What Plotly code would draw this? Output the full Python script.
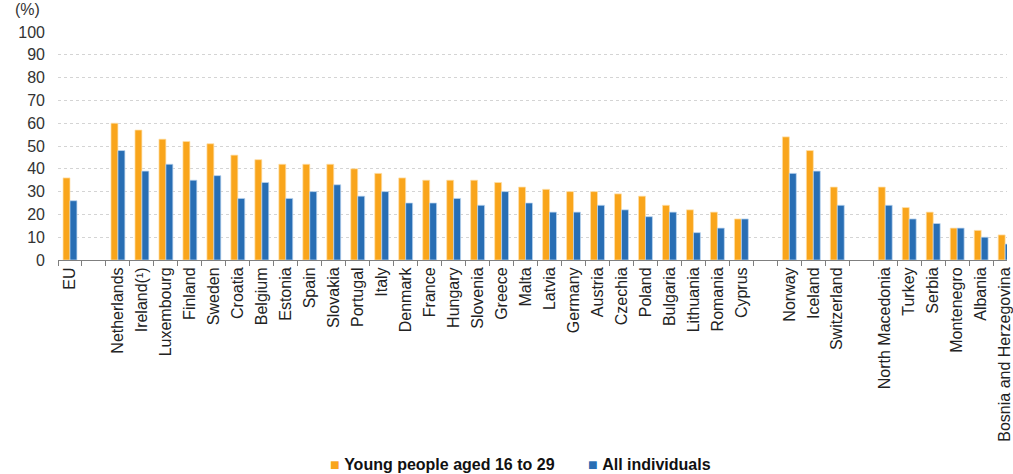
import plotly.graph_objects as go

categories = ["EU", " ", "Netherlands", "Ireland(¹)", "Luxembourg", "Finland", "Sweden",
              "Croatia", "Belgium", "Estonia", "Spain", "Slovakia", "Portugal", "Italy",
              "Denmark", "France", "Hungary", "Slovenia", "Greece", "Malta", "Latvia",
              "Germany", "Austria", "Czechia", "Poland", "Bulgaria", "Lithuania", "Romania",
              "Cyprus", "  ", "Norway", "Iceland", "Switzerland", "   ", "North Macedonia",
              "Turkey", "Serbia", "Montenegro", "Albania", "Bosnia and Herzegovina"]

young = [36, None, 60, 57, 53, 52, 51, 46, 44, 42, 42, 42, 40, 38, 36, 35, 35, 35, 34, 32, 31,
         30, 30, 29, 28, 24, 22, 21, 18, None, 54, 48, 32, None, 32, 23, 21, 14, 13, 11]
all_ind = [26, None, 48, 39, 42, 35, 37, 27, 34, 27, 30, 33, 28, 30, 25, 25, 27, 24, 30, 25, 21,
           21, 24, 22, 19, 21, 12, 14, 18, None, 38, 39, 24, None, 24, 18, 16, 14, 10, 7]

y_ticks = list(range(0, 101, 10))

ORANGE = "#F9A51B"
BLUE = "#286EB4"
FONT = "Liberation Sans, Arial, sans-serif"

fig = go.Figure()
fig.add_trace(go.Bar(x=categories, y=young, name="Young people aged 16 to 29",
                     marker=dict(color=ORANGE, line=dict(color="rgba(255,225,170,0.9)", width=0.8))))
fig.add_trace(go.Bar(x=categories, y=all_ind, name="All individuals",
                     marker=dict(color=BLUE, line=dict(color="rgba(190,215,240,0.9)", width=0.8))))

W, H = 1013, 474
L, R, T, B = 58, 0, 32, 474 - 260
plot_w = W - L - R
plot_h = H - T - B
cat_w = 24.13
x_end = -0.5 + plot_w / cat_w

fig.update_layout(
    width=W, height=H,
    margin=dict(l=L, r=R, t=T, b=B),
    paper_bgcolor="white", plot_bgcolor="white",
    barmode="group", bargap=0.42, bargroupgap=0,
    showlegend=False,
    font=dict(family=FONT, color="#222222"),
)
fig.update_xaxes(
    type="category", range=[-0.5, x_end],
    tickangle=-90, tickfont=dict(size=16, color="#222222"),
    showline=True, linecolor="#7f7f7f", linewidth=1,
    ticks="outside", ticklen=5, tickcolor="#7f7f7f", tickson="boundaries",
    showgrid=False,
)
fig.update_yaxes(
    range=[0, 100], tickvals=y_ticks, tickfont=dict(size=16, color="#333333"),
    showgrid=True, gridcolor="#d4d4d4", griddash="dot", gridwidth=1,
    zeroline=False, showline=False, ticks="", ticklabelstandoff=12,
)

def px_to_paper_x(px):
    return (px - L) / plot_w

def px_to_paper_y(py):
    return (H - B - py) / plot_h

fig.add_annotation(text="(%)", xref="paper", yref="paper",
                   x=px_to_paper_x(27), y=px_to_paper_y(9), xanchor="center", yanchor="middle",
                   showarrow=False, font=dict(size=16, color="#333333", family=FONT))

fig.add_annotation(text=f"<span style='color:{ORANGE}'>■</span> <b>Young people aged 16 to 29</b>",
                   xref="paper", yref="paper", x=px_to_paper_x(330), y=px_to_paper_y(464),
                   xanchor="left", yanchor="middle", showarrow=False,
                   font=dict(size=16, color="#111111", family=FONT))
fig.add_annotation(text=f"<span style='color:{BLUE}'>■</span> <b>All individuals</b>",
                   xref="paper", yref="paper", x=px_to_paper_x(589), y=px_to_paper_y(464),
                   xanchor="left", yanchor="middle", showarrow=False,
                   font=dict(size=16, color="#111111", family=FONT))

fig.write_html(
    "out.html",
    config={"displayModeBar": False},
    post_script="document.documentElement.style.overflow='hidden';"
                "document.body.style.margin='0';document.body.style.overflow='hidden';",
)
